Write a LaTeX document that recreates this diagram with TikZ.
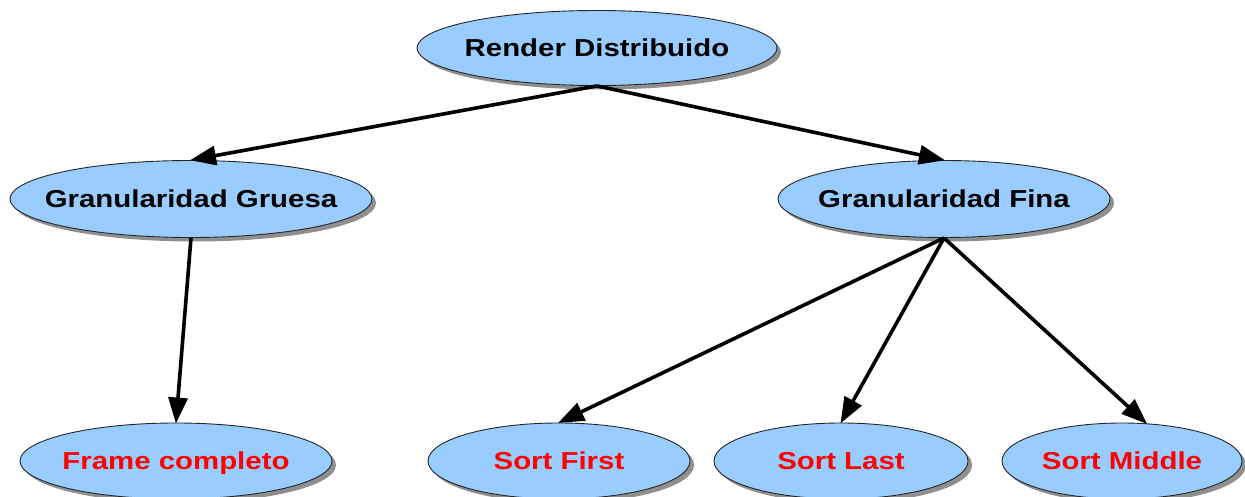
\documentclass[tikz,border=0pt]{standalone}
\usepackage{fontspec}
\setmainfont{Liberation Sans}
\usetikzlibrary{shapes.geometric,shadows,arrows.meta}
\definecolor{ellfill}{HTML}{99CCFF}
\definecolor{leafred}{HTML}{FF0000}
\newcommand{\wide}[1]{\scalebox{1.2}[1]{#1}}
\tikzset{
  ell/.style={ellipse, draw=black!85, line width=0.9pt, fill=ellfill, inner sep=0pt,
    drop shadow={shadow xshift=4pt, shadow yshift=-4pt, fill=black!55, opacity=0.8}},
  lbl/.style={font=\fontsize{24.5}{28}\selectfont\bfseries, text=black, inner sep=0pt},
  leaf/.style={lbl, text=leafred},
  arr/.style={line width=3.6pt, -{Triangle[length=26pt,width=19pt]}, shorten >=-1pt}
}
\begin{document}
\begin{tikzpicture}[x=1pt,y=-1pt]
\useasboundingbox (0,0) rectangle (1245,497);
\node[ell, minimum width=360pt, minimum height=75pt] (r) at (597,48) {};
\node[lbl] (rt) at (r) {\wide{Render Distribuido}};
\node[ell, minimum width=362pt, minimum height=77pt] (gg) at (191,199) {};
\node[lbl] (ggt) at (gg) {\wide{Granularidad Gruesa}};
\node[ell, minimum width=332pt, minimum height=77pt] (gf) at (944,199) {};
\node[lbl] (gft) at (gf) {\wide{Granularidad Fina}};
\node[ell, minimum width=312pt, minimum height=76pt] (fc) at (176,461) {};
\node[leaf] (fct) at ([yshift=-2pt]fc.center) {\wide{Frame completo}};
\node[ell, minimum width=262pt, minimum height=76pt] (sf) at (559,461) {};
\node[leaf] (sft) at (sf) {\wide{Sort First}};
\node[ell, minimum width=254pt, minimum height=76pt] (sl) at (841,461) {};
\node[leaf] (slt) at (sl) {\wide{Sort Last}};
\node[ell, minimum width=240pt, minimum height=76pt] (sm) at (1122,461) {};
\node[leaf] (smt) at (sm) {\wide{Sort Middle}};
\draw[arr] (r.south) -- (gg.north);
\draw[arr] (r.south) -- (gf.north);
\draw[arr] (gg.south) -- (fc.north);
\draw[arr] (gf.south) -- (sf.north);
\draw[arr] (gf.south) -- (sl.north);
\draw[arr] (gf.south) -- (sm.57);
\end{tikzpicture}
\end{document}
